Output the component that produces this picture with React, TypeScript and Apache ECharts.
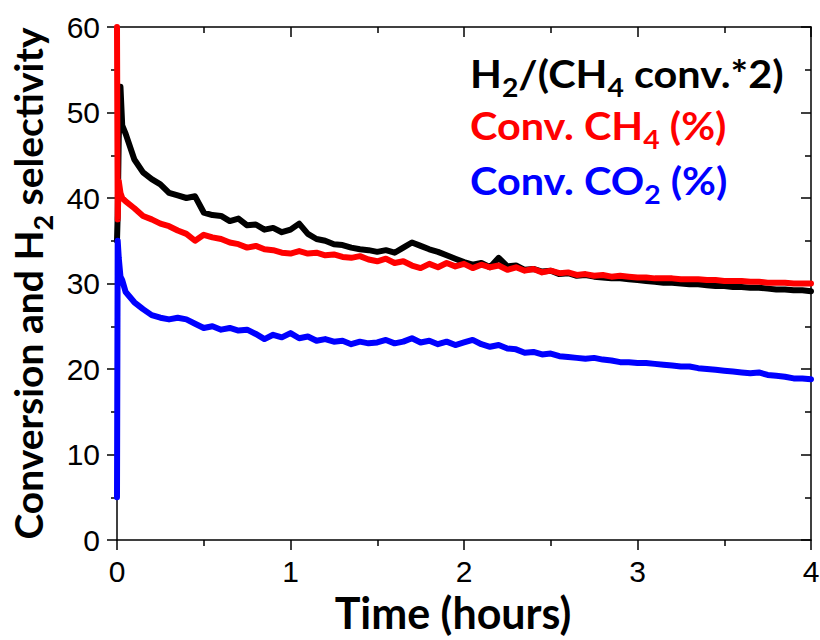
import React, { useEffect, useRef } from "react";
import * as echarts from "echarts";

// Time (hours)
const hours = [
  0, 0.004, 0.01, 0.02, 0.03, 0.05,
  0.1, 0.15, 0.2, 0.25, 0.3, 0.35, 0.4, 0.45, 0.5, 0.55, 0.6, 0.65, 0.7, 0.75, 0.8, 0.85, 0.9, 0.95, 1.0,
  1.05, 1.1, 1.15, 1.2, 1.25, 1.3, 1.35, 1.4, 1.45, 1.5, 1.55, 1.6, 1.65, 1.7, 1.75, 1.8, 1.85, 1.9, 1.95, 2.0,
  2.05, 2.1, 2.15, 2.2, 2.25, 2.3, 2.35, 2.4, 2.45, 2.5, 2.55, 2.6, 2.65, 2.7, 2.75, 2.8, 2.85, 2.9, 2.95, 3.0,
  3.05, 3.1, 3.15, 3.2, 3.25, 3.3, 3.35, 3.4, 3.45, 3.5, 3.55, 3.6, 3.65, 3.7, 3.75, 3.8, 3.85, 3.9, 3.95, 4.0,
];

// H2/(CH4 conv.*2)
const h2Selectivity = [
  35, 38, 47, 53, 48.5, 47.5,
  44.5, 43.0, 42.2, 41.6, 40.6, 40.3, 40.0, 40.2, 38.3, 38.0, 37.9, 37.3, 37.6, 36.8, 36.9, 36.3, 36.5, 36.0, 36.3,
  37.0, 35.8, 35.2, 35.0, 34.6, 34.5, 34.2, 34.0, 33.9, 33.7, 33.9, 33.6, 34.2, 34.8, 34.4, 34.0, 33.7, 33.3, 32.9, 32.5,
  32.2, 32.4, 31.9, 33.0, 32.0, 32.1, 31.6, 31.7, 31.4, 31.5, 31.1, 31.2, 30.9, 31.0, 30.8, 30.7, 30.6, 30.6, 30.5, 30.4,
  30.3, 30.2, 30.1, 30.1, 30.0, 29.9, 29.9, 29.8, 29.7, 29.7, 29.6, 29.6, 29.5, 29.5, 29.4, 29.3, 29.3, 29.2, 29.2, 29.1,
];

// Conv. CH4 (%)
const ch4Conversion = [
  60, 37.5, 42, 40.6, 40.0, 39.6,
  38.8, 37.9, 37.5, 37.0, 36.7, 36.2, 35.8, 35.0, 35.7, 35.4, 35.2, 34.8, 34.6, 34.2, 34.4, 34.0, 33.9, 33.6, 33.5,
  33.8, 33.5, 33.6, 33.3, 33.4, 33.1, 33.0, 33.2, 32.8, 32.6, 32.9, 32.4, 32.6, 32.1, 31.8, 32.3, 31.9, 32.4, 32.0, 32.3,
  31.8, 32.2, 31.9, 32.1, 31.6, 31.9, 31.5, 31.7, 31.3, 31.5, 31.2, 31.3, 31.0, 31.1, 30.9, 31.0, 30.8, 30.9, 30.8, 30.7,
  30.7, 30.6, 30.6, 30.6, 30.5, 30.5, 30.5, 30.4, 30.4, 30.3, 30.3, 30.3, 30.2, 30.2, 30.1, 30.1, 30.1, 30.0, 30.0, 30.0,
];

// Conv. CO2 (%)
const co2Conversion = [
  5, 35, 33, 30.8, 30.4, 29.0,
  27.8, 27.0, 26.3, 26.0, 25.8, 26.0, 25.8, 25.3, 24.8, 25.0, 24.6, 24.8, 24.5, 24.6, 24.1, 23.5, 24.0, 23.7, 24.2,
  23.6, 23.8, 23.3, 23.5, 23.2, 23.3, 22.9, 23.2, 23.0, 23.1, 23.4, 23.0, 23.2, 23.6, 23.1, 23.3, 22.9, 23.2, 22.8, 23.1,
  23.4, 22.9, 22.6, 22.8, 22.4, 22.3, 21.9, 22.0, 21.7, 21.8, 21.5, 21.4, 21.3, 21.2, 21.3, 21.1, 21.0, 20.8, 20.8, 20.7,
  20.7, 20.6, 20.5, 20.4, 20.3, 20.3, 20.1, 20.0, 19.9, 19.8, 19.7, 19.6, 19.5, 19.6, 19.3, 19.2, 19.1, 18.9, 18.9, 18.8,
];

const xTitle = "Time (hours)";
const yTitle = "{m|Conversion and H}{s|2}{m| selectivity}";
const legendLines = [
  { text: "{m|H}{s|2}{m|/(CH}{s|4}{m| conv.*2)}", color: "#000000" },
  { text: "{m|Conv. CH}{s|4}{m| (%)}", color: "#ff0000" },
  { text: "{m|Conv. CO}{s|2}{m| (%)}", color: "#0000ff" },
];

const TITLE_FONT = "Lato, 'Open Sans', sans-serif";
const TICK_FONT = "'Liberation Sans', Arial, sans-serif";

export default function App() {
  const ref = useRef<HTMLDivElement>(null);

  useEffect(() => {
    const chart = echarts.init(ref.current!, null, { renderer: "svg" });
    const pairs = (vals: number[]) => hours.map((t, i) => [t, vals[i]]);

    const mainRich = { fontFamily: TITLE_FONT, fontWeight: "bold", fontSize: 38, lineHeight: 44 };
    const subRich = { fontFamily: TITLE_FONT, fontWeight: "bold", fontSize: 26, lineHeight: 44, padding: [28, 0, 0, 0] };
    const yMainRich = { ...mainRich, fontSize: 39 };
    const ySubRich = { ...subRich, fontSize: 27 };

    const axisLine = { show: true, onZero: false, lineStyle: { color: "#000", width: 1.5 } };
    const tickStyle = { color: "#000", width: 1.5 };

    const legendTops = [51, 103, 158];

    chart.setOption({
      animation: false,
      grid: { left: 117, right: 9, top: 27, bottom: 100, outerBoundsMode: "none", containLabel: false },
      xAxis: [
        {
          type: "value",
          position: "bottom",
          min: 0,
          max: 4,
          interval: 1,
          name: xTitle,
          nameLocation: "middle",
          nameGap: 49,
          nameTextStyle: {
            fontFamily: TITLE_FONT,
            fontWeight: "bold",
            fontSize: 43,
            lineHeight: 44,
            color: "#000",
            padding: [0, 22, 0, 0],
          },
          axisLine,
          axisTick: { show: true, inside: false, length: 10, lineStyle: tickStyle },
          minorTick: { show: true, splitNumber: 2, length: 6, lineStyle: tickStyle },
          axisLabel: { fontFamily: TICK_FONT, fontSize: 30, color: "#000", margin: 16 },
          splitLine: { show: false },
        },
        {
          type: "value",
          position: "top",
          min: 0,
          max: 4,
          interval: 1,
          axisLine,
          axisTick: { show: true, inside: true, length: 10, lineStyle: tickStyle },
          minorTick: { show: true, splitNumber: 2, length: 6, lineStyle: tickStyle },
          axisLabel: { show: false },
          splitLine: { show: false },
        },
      ],
      yAxis: [
        {
          type: "value",
          position: "left",
          min: 0,
          max: 60,
          interval: 10,
          name: yTitle,
          nameLocation: "middle",
          nameRotate: 90,
          nameGap: 66,
          nameTextStyle: { color: "#000", rich: { m: yMainRich, s: ySubRich } },
          axisLine,
          axisTick: { show: true, inside: false, length: 10, lineStyle: tickStyle },
          minorTick: { show: true, splitNumber: 2, length: 6, lineStyle: tickStyle },
          axisLabel: { fontFamily: TICK_FONT, fontSize: 30, color: "#000", margin: 17 },
          splitLine: { show: false },
        },
        {
          type: "value",
          position: "right",
          min: 0,
          max: 60,
          interval: 10,
          axisLine,
          axisTick: { show: true, inside: true, length: 10, lineStyle: tickStyle },
          minorTick: { show: true, splitNumber: 2, length: 6, lineStyle: tickStyle },
          axisLabel: { show: false },
          splitLine: { show: false },
        },
      ],
      series: [
        {
          name: "H2/(CH4 conv.*2)",
          type: "line",
          xAxisIndex: 0,
          yAxisIndex: 0,
          data: pairs(h2Selectivity),
          showSymbol: false,
          lineStyle: { color: "#000000", width: 6, join: "round", cap: "round" },
          itemStyle: { color: "#000000" },
          z: 2,
        },
        {
          name: "Conv. CH4 (%)",
          type: "line",
          xAxisIndex: 0,
          yAxisIndex: 0,
          data: pairs(ch4Conversion),
          showSymbol: false,
          lineStyle: { color: "#ff0000", width: 6, join: "round", cap: "round" },
          itemStyle: { color: "#ff0000" },
          z: 3,
        },
        {
          name: "Conv. CO2 (%)",
          type: "line",
          xAxisIndex: 0,
          yAxisIndex: 0,
          data: pairs(co2Conversion),
          showSymbol: false,
          lineStyle: { color: "#0000ff", width: 6, join: "round", cap: "round" },
          itemStyle: { color: "#0000ff" },
          z: 4,
        },
      ],
      graphic: legendLines.map((l, i) => ({
        type: "text",
        x: 470,
        y: legendTops[i],
        scaleX: 1.09,
        z: 10,
        style: {
          text: l.text,
          fill: l.color,
          align: "left",
          verticalAlign: "top",
          rich: {
            m: { ...mainRich, fill: l.color },
            s: { ...subRich, fill: l.color },
          },
        },
      })),
    });

    return () => chart.dispose();
  }, []);

  return <div ref={ref} style={{ position: "absolute", left: 0, top: 0, width: 820, height: 640 }} />;
}
